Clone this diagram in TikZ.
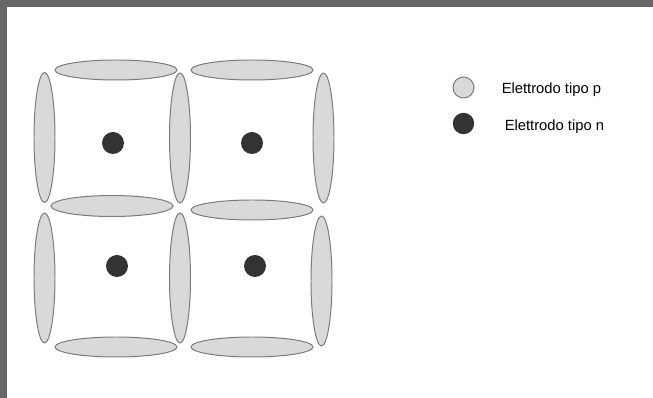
\documentclass[tikz,border=0pt]{standalone}
\usepackage{fontspec}
\setmainfont{Liberation Sans}
\definecolor{pfill}{HTML}{D9D9D9}
\definecolor{pline}{HTML}{7A7A7A}
\definecolor{ndot}{HTML}{333333}
\definecolor{frame}{HTML}{676767}
\tikzset{
  pelectrode/.style={fill=pfill, draw=pline, line width=0.7pt},
  nelectrode/.style={fill=ndot},
  legendtext/.style={anchor=base west, inner sep=0pt, font=\fontsize{10.5}{12}\selectfont}
}
\begin{document}
\begin{tikzpicture}[x=0.025cm, y=-0.025cm]
\useasboundingbox (0,0) rectangle (653,398);
% frame
\fill[white] (0,0) rectangle (653,398);
\fill[frame] (0,0) rectangle (653,7);
\fill[frame] (0,0) rectangle (7,398);
% horizontal p electrodes
\draw[pelectrode] (116,70) ellipse [x radius=61, y radius=10];
\draw[pelectrode] (252,70) ellipse [x radius=61, y radius=10];
\draw[pelectrode] (112,206) ellipse [x radius=61, y radius=10.5];
\draw[pelectrode] (252,210) ellipse [x radius=61, y radius=10];
\draw[pelectrode] (116,347) ellipse [x radius=61, y radius=10];
\draw[pelectrode] (252,347) ellipse [x radius=61, y radius=10];
% vertical p electrodes
\draw[pelectrode] (44.5,137.5) ellipse [x radius=10.5, y radius=65];
\draw[pelectrode] (180,138) ellipse [x radius=10.5, y radius=65];
\draw[pelectrode] (323.5,138) ellipse [x radius=10.5, y radius=65];
\draw[pelectrode] (44.5,278) ellipse [x radius=10.5, y radius=65];
\draw[pelectrode] (180,278) ellipse [x radius=10.5, y radius=65];
\draw[pelectrode] (321.5,281) ellipse [x radius=10.5, y radius=65];
% n electrodes
\fill[nelectrode] (113,143) circle (11);
\fill[nelectrode] (252,143) circle (11);
\fill[nelectrode] (117,266) circle (11);
\fill[nelectrode] (255,266) circle (11);
% legend
\draw[pelectrode] (463.5,87.5) circle (10.5);
\node[legendtext] (ptext) at (501.5,94) {Elettrodo tipo p};
\fill[nelectrode] (463.5,123.5) circle (10.7);
\node[legendtext] (ntext) at (504.5,130.3) {Elettrodo tipo n};
\end{tikzpicture}
\end{document}
